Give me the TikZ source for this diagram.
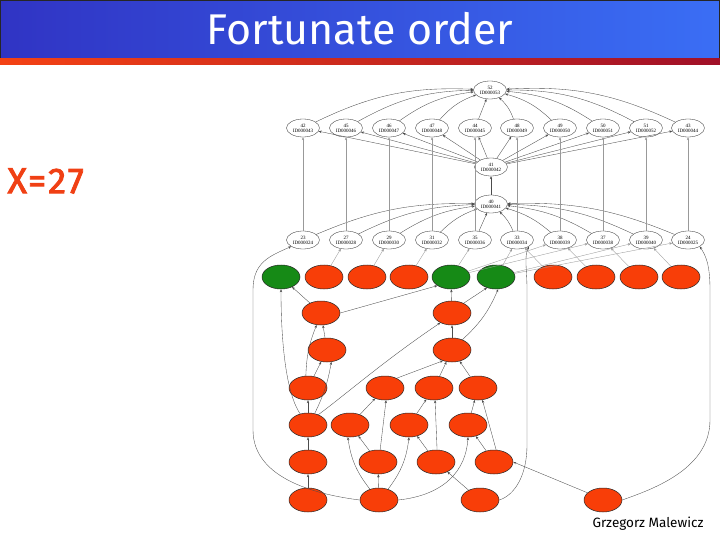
\documentclass[tikz,border=0pt]{standalone}
\usepackage{fontspec}
\setmainfont{Liberation Serif}
\newfontfamily\titlefont{Fira Sans}
\newfontfamily\xfont[LetterSpace=6,FakeBold=2.5]{Fira Sans}
\usetikzlibrary{arrows.meta,shapes.geometric,calc}
\definecolor{titleL}{RGB}{48,52,196}
\definecolor{titleR}{RGB}{58,110,245}
\definecolor{stripL}{RGB}{244,66,20}
\definecolor{stripR}{RGB}{160,16,40}
\definecolor{redfill}{RGB}{248,62,8}
\definecolor{greenfill}{RGB}{22,138,22}
\definecolor{xred}{RGB}{240,64,20}
\tikzset{
  wnode/.style={ellipse, draw=black!85, line width=0.3pt, fill=white, minimum width=33pt, minimum height=18pt, inner sep=0pt, align=center, font=\fontsize{5}{5.2}\selectfont},
  rnode/.style={ellipse, draw=black!85, line width=0.5pt, fill=redfill, minimum width=38pt, minimum height=24pt, inner sep=0pt},
  gnode/.style={rnode, fill=greenfill},
  edge/.style={draw=black!70, line width=0.35pt, -{Stealth[length=3pt,width=2.4pt]}},
  faint/.style={edge, draw=black!40},
}
\begin{document}
\begin{tikzpicture}[x=1pt,y=-1pt]
\useasboundingbox (0,0) rectangle (720,540);
% title bar
\shade[left color=titleL, right color=titleR] (0,0) rectangle (720,58);
\draw[black!85, line width=0.8pt] (0.4,0.4) rectangle (719.6,58);
\shade[left color=stripL, right color=stripR] (0,58.4) rectangle (720,65);
\node[text=white, font=\titlefont\fontsize{43}{43}\selectfont] (title) at (360,29) {Fortunate order};
\node[text=xred, font=\xfont\fontsize{36}{36}\selectfont, anchor=west] (xlab) at (4,181) {X=27};
\node[font=\titlefont\fontsize{13.5}{13.5}\selectfont] (author) at (648,524) {Grzegorz Malewicz};

% top white nodes
\node[wnode] (n52) at (490,90) {52\\ID000053};
\node[wnode] (r1) at (303,128) {42\\ID000043};
\node[wnode] (r2) at (346,128) {45\\ID000046};
\node[wnode] (r3) at (389,128) {46\\ID000047};
\node[wnode] (r4) at (432,128) {47\\ID000048};
\node[wnode] (r5) at (475,128) {44\\ID000045};
\node[wnode] (r6) at (517,128) {48\\ID000049};
\node[wnode] (r7) at (560,128) {49\\ID000050};
\node[wnode] (r8) at (603,128) {50\\ID000051};
\node[wnode] (r9) at (646,128) {51\\ID000052};
\node[wnode] (r10) at (688,128) {43\\ID000044};
\node[wnode] (n41) at (491,167) {41\\ID000042};
\node[wnode] (n40) at (491,204) {40\\ID000041};
\node[wnode] (w1) at (303,240) {23\\ID000024};
\node[wnode] (w2) at (346,240) {27\\ID000028};
\node[wnode] (w3) at (389,240) {29\\ID000030};
\node[wnode] (w4) at (432,240) {31\\ID000032};
\node[wnode] (w5) at (475,240) {35\\ID000036};
\node[wnode] (w6) at (517,240) {33\\ID000034};
\node[wnode] (w7) at (560,240) {38\\ID000039};
\node[wnode] (w8) at (603,240) {37\\ID000038};
\node[wnode] (w9) at (646,240) {39\\ID000040};
\node[wnode] (w10) at (688,240) {24\\ID000025};

% red / green nodes
\node[gnode] (a1) at (281,277) {};
\node[rnode] (a2) at (324,277) {};
\node[rnode] (a3) at (367,277) {};
\node[rnode] (a4) at (409,277) {};
\node[gnode] (a5) at (451,277) {};
\node[gnode] (a6) at (496,277) {};
\node[rnode] (a7) at (553,277) {};
\node[rnode] (a8) at (596,277) {};
\node[rnode] (a9) at (639,277) {};
\node[rnode] (a10) at (681,277) {};
\node[rnode] (b1) at (321,313) {};
\node[rnode] (b2) at (452,313) {};
\node[rnode] (c1) at (327,350) {};
\node[rnode] (c2) at (452,350) {};
\node[rnode] (d1) at (308,388) {};
\node[rnode] (d2) at (385,388) {};
\node[rnode] (d3) at (434,388) {};
\node[rnode] (d4) at (478,388) {};
\node[rnode] (e1) at (308,425) {};
\node[rnode] (e2) at (350,425) {};
\node[rnode] (e3) at (409,425) {};
\node[rnode] (e4) at (468,425) {};
\node[rnode] (f1) at (308,462) {};
\node[rnode] (f2) at (378,462) {};
\node[rnode] (f3) at (436,462) {};
\node[rnode] (f4) at (494,462) {};
\node[rnode] (g1) at (308,500) {};
\node[rnode] (g2) at (379,500) {};
\node[rnode] (g3) at (480,500) {};
\node[rnode] (g4) at (603,500) {};

% top section edges
\foreach \i in {1,...,4} {
  \draw[edge] (r\i) to[bend left=14] (n52);
  \draw[edge] (w\i) to[bend left=12] (n40);
  \draw[edge] (n41) -- (r\i);
}
\foreach \i in {6,...,10} {
  \draw[edge] (r\i) to[bend right=14] (n52);
  \draw[edge] (w\i) to[bend right=12] (n40);
  \draw[edge] (n41) -- (r\i);
}
\draw[edge] (r5) -- (n52);
\draw[edge] (w5) -- (n40);
\draw[edge] (n41) -- (r5);
\draw[edge] (n40) -- (n41);
\foreach \i in {1,...,10} {
  \draw[faint] (w\i) -- (r\i);
}

% red area to white row
\foreach \i in {2,...,6} {
  \draw[faint] (a\i) -- (w\i);
}
\draw[faint] (a7) -- (w6);
\draw[faint] (a8) -- (w7);
\draw[faint] (a9) -- (w8);
\draw[faint] (a10) -- (w9);
\draw[faint] (a5) -- (w7);
\draw[faint] (a5) -- (w8);
\draw[faint] (a6) -- (w9);
\draw[faint] (a6) -- (w10);

% red area edges
\draw[edge] (b1) -- (a1);
\draw[edge] (b1.east) -- (a5.south west);
\draw[edge] (c1) -- (b1);
\draw[edge] (d1.100) to[bend left=10] (b1.250);
\draw[edge] (d1) -- (c1);
\draw[edge] (e1.60) to[bend right=8] (c1.290);
\draw[edge] (e1.125) .. controls (284,390) and (281,330) .. (a1.south);
\draw[edge] (e1.45) .. controls (345,395) and (385,360) .. (b2.220);
\draw[edge] (e1) -- (d1);
\draw[edge] (f1) -- (e1);
\draw[edge] (g1) -- (f1);
\draw[edge] (c2) -- (b2);
\draw[edge] (b2) -- (a5);
\draw[edge] (b2.40) -- (a6.230);
\draw[edge] (c2.45) to[bend right=12] (a6.280);
\draw[edge] (d2.40) -- (c2.230);
\draw[edge] (d3) -- (c2);
\draw[edge] (d4) -- (c2);
\draw[edge] (e2) -- (d2);
\draw[edge] (f2.80) -- (d2.275);
\draw[edge] (f2) -- (e2);
\draw[edge] (g2.130) to[bend left=15] (e2.260);
\draw[edge] (g2) -- (f2);
\draw[edge] (g2.50) to[bend right=15] (e3.270);
\draw[edge] (g2.east) .. controls (445,495) and (466,470) .. (e4.south);
\draw[edge] (e3) -- (d3);
\draw[edge] (f3) -- (e3);
\draw[edge] (f3.85) -- (d3.275);
\draw[edge] (e4) -- (d4);
\draw[edge] (f4) -- (e4);
\draw[edge] (f4.80) -- (d4.290);
\draw[edge] (g3) -- (f3);
\draw[edge] (g4.155) -- (f4.east);
\draw[edge] (g2.west) .. controls (320,495) and (253,480) .. (253,430) -- (253,290) .. controls (253,262) and (270,256) .. (w1.south west);
\draw[edge] (g4.east) .. controls (650,490) and (710,470) .. (710,420) -- (710,290) .. controls (710,265) and (706,256) .. (w10.south east);
\draw[edge] (g3.east) .. controls (515,495) and (527,475) .. (527,445) -- (527,290) .. controls (527,268) and (524,258) .. (w6.south east);
\end{tikzpicture}
\end{document}
